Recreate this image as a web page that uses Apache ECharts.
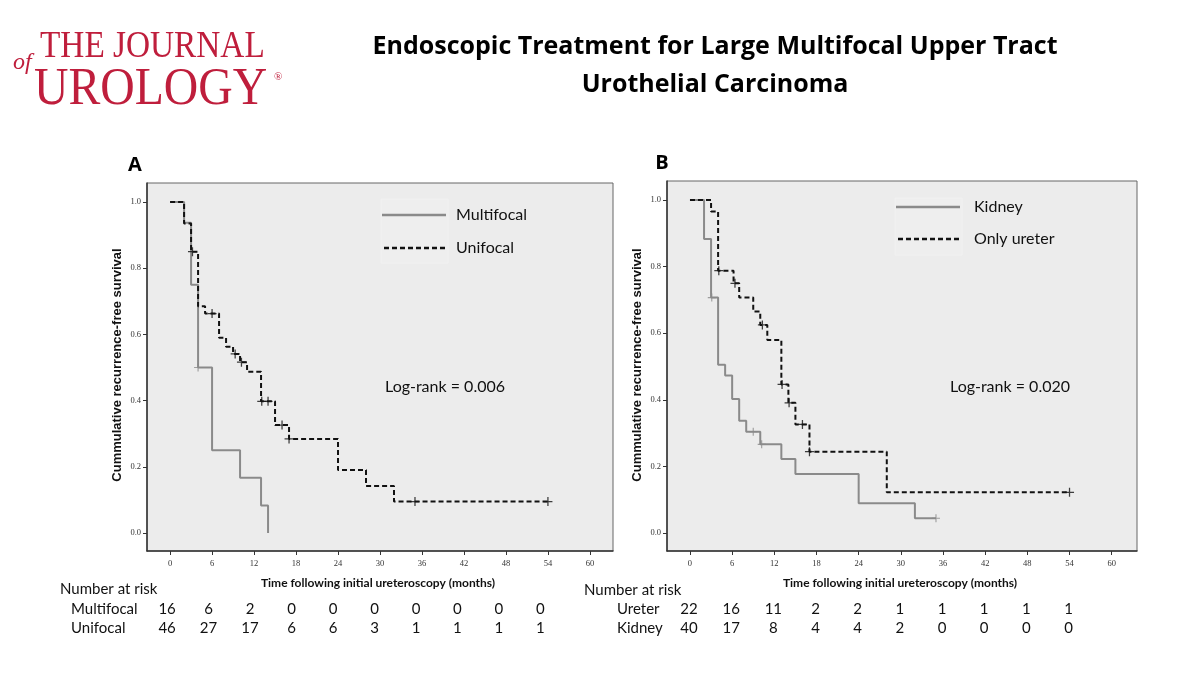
<!DOCTYPE html>
<html>
<head>
<meta charset="utf-8">
<script src="https://cdn.jsdelivr.net/npm/echarts@6/dist/echarts.min.js"></script>
<style>
html,body{margin:0;padding:0;background:#fff;}
#chart{width:1200px;height:685px;}
</style>
</head>
<body>
<div id="chart"></div>
<script>
// ---------- data ----------
const xTicks = [0, 6, 12, 18, 24, 30, 36, 42, 48, 54, 60];
const yTicks = [0, 0.2, 0.4, 0.6, 0.8, 1.0];

// Panel A
const multifocalTime = [0, 2, 3, 4, 6, 10, 13, 14];
const multifocalSurv = [1, 0.9375, 0.75, 0.5, 0.25, 0.1667, 0.0833, 0];
const multifocalCensorTime = [4];
const multifocalCensorSurv = [0.5];

const unifocalTime = [0, 2, 3, 4, 5, 7, 8, 9, 10, 11, 13, 15, 17, 24, 28, 32, 54];
const unifocalSurv = [1, 0.935, 0.85, 0.685, 0.663, 0.59, 0.563, 0.541, 0.516, 0.487, 0.398, 0.326, 0.284, 0.19, 0.142, 0.095, 0.095];
const unifocalCensorTime = [3.2, 6, 9.3, 10.2, 13.1, 14, 16, 17, 35, 54];
const unifocalCensorSurv = [0.85, 0.663, 0.541, 0.516, 0.398, 0.398, 0.326, 0.284, 0.095, 0.095];

// Panel B
const kidneyTime = [0, 2, 3, 4, 5, 6, 7, 8, 10, 13, 15, 24, 32, 35];
const kidneySurv = [1, 0.883, 0.707, 0.505, 0.473, 0.402, 0.337, 0.304, 0.266, 0.222, 0.177, 0.089, 0.044, 0.044];
const kidneyCensorTime = [3.1, 9, 10.2, 35];
const kidneyCensorSurv = [0.707, 0.304, 0.266, 0.044];

const ureterTime = [0, 3, 4, 6.2, 7, 9, 10, 11, 13, 14, 15, 17, 28, 54];
const ureterSurv = [1, 0.966, 0.788, 0.75, 0.707, 0.665, 0.625, 0.58, 0.446, 0.391, 0.326, 0.244, 0.122, 0.122];
const ureterCensorTime = [4.1, 6.4, 10.3, 13.1, 14.1, 16, 17, 54];
const ureterCensorSurv = [0.788, 0.75, 0.625, 0.446, 0.391, 0.326, 0.244, 0.122];

// Numbers at risk
const riskTimes = [0, 6, 12, 18, 24, 30, 36, 42, 48, 54];
const riskMultifocal = [16, 6, 2, 0, 0, 0, 0, 0, 0, 0];
const riskUnifocal = [46, 27, 17, 6, 6, 3, 1, 1, 1, 1];
const riskUreter = [22, 16, 11, 2, 2, 1, 1, 1, 1, 1];
const riskKidney = [40, 17, 8, 4, 4, 2, 0, 0, 0, 0];

// ---------- helpers ----------
const zip = (a, b) => a.map((v, i) => [v, b[i]]);
const PLUS = 'path://M0,4.3H10V5.7H0Z M4.3,0H5.7V10H4.3Z';
const GREY = '#8a8a8a';
const DARK = '#111';
const RED = '#bf1e3c';

function xAxisCfg(idx, min, max) {
  return {
    gridIndex: idx, type: 'value', min: min, max: max,
    axisLine: {show: true, onZero: false, lineStyle: {color: '#333', width: 1.5}},
    axisTick: {show: true, length: 4, customValues: xTicks, lineStyle: {color: '#333'}},
    axisLabel: {customValues: xTicks, margin: 8, fontFamily: 'Liberation Serif', fontSize: 8.5, color: '#333'},
    splitLine: {show: false}
  };
}
function yAxisCfg(idx) {
  return {
    gridIndex: idx, type: 'value', min: -0.0544, max: 1.0574,
    axisLine: {show: true, onZero: false, lineStyle: {color: '#333', width: 1.5}},
    axisTick: {show: true, length: 4, customValues: yTicks, lineStyle: {color: '#333'}},
    axisLabel: {customValues: yTicks, margin: 6, fontFamily: 'Liberation Serif', fontSize: 8.5, color: '#333',
      formatter: v => v.toFixed(1)},
    splitLine: {show: false}
  };
}
function stepSeries(name, idx, t, s, grey) {
  return {
    name: name, type: 'line', step: 'end', xAxisIndex: idx, yAxisIndex: idx,
    data: zip(t, s), showSymbol: false, symbol: 'none', silent: true,
    lineStyle: grey ? {color: GREY, width: 2} : {color: DARK, width: 2, type: [5, 3]},
    z: grey ? 2 : 3
  };
}
function censorSeries(name, idx, t, s, grey) {
  return {
    name: name, type: 'scatter', xAxisIndex: idx, yAxisIndex: idx,
    data: zip(t, s), symbol: PLUS, symbolSize: grey ? 8 : 9, silent: true,
    itemStyle: {color: grey ? GREY : DARK}, z: 4
  };
}

const g = [];
function txt(text, x, y, font, fill, align, vAlign, extra) {
  const e = {type: 'text', x: x, y: y, silent: true,
    style: {text: text, x: 0, y: 0, font: font, fill: fill || '#000', textAlign: align || 'left', textVerticalAlign: vAlign || 'middle'}};
  if (extra) Object.assign(e, extra);
  g.push(e);
}
function seg(x1, y1, x2, y2, color, width, dash) {
  g.push({type: 'line', silent: true, shape: {x1: x1, y1: y1, x2: x2, y2: y2},
    style: {stroke: color, lineWidth: width, lineDash: dash || null}});
}

// Logo
txt('THE JOURNAL', 40, 47, '37px "Liberation Serif"', RED, 'left', 'middle', {scaleX: 0.9, scaleY: 1});
txt('of', 13, 63, 'italic 24px "Liberation Serif"', RED, 'left', 'middle');
txt('UROLOGY', 34, 90, '53px "Liberation Serif"', RED, 'left', 'middle', {scaleX: 0.9, scaleY: 1});
txt('®', 274, 77, '11px "Liberation Serif"', RED, 'left', 'middle');

// Title
txt('Endoscopic Treatment for Large Multifocal Upper Tract', 715, 47, 'bold 25px "Open Sans"', '#000', 'center');
txt('Urothelial Carcinoma', 715, 85, 'bold 25px "Open Sans"', '#000', 'center');

// Panel letters
txt('A', 135, 165, 'bold 20px "Open Sans"', '#000', 'center');
txt('B', 662, 163, 'bold 20px "Open Sans"', '#000', 'center');

// Axis names
txt('Cummulative recurrence-free survival', 117, 365, 'bold 13px "Liberation Sans"', '#111', 'center', 'middle', {rotation: Math.PI / 2});
txt('Cummulative recurrence-free survival', 637, 365, 'bold 13px "Liberation Sans"', '#111', 'center', 'middle', {rotation: Math.PI / 2});
txt('Time following initial ureteroscopy (months)', 378, 583, 'bold 12px Lato', '#111', 'center');
txt('Time following initial ureteroscopy (months)', 900, 583, 'bold 12px Lato', '#111', 'center');

// Legends
g.push({type: 'rect', silent: true, shape: {x: 381, y: 199, width: 67, height: 64}, style: {fill: 'rgba(255,255,255,0.12)', stroke: '#f1f1f1', lineWidth: 1}});
seg(382, 215, 446, 215, GREY, 2.5);
seg(384, 248, 446, 248, DARK, 2.5, [5, 3]);
txt('Multifocal', 456, 215, '16px Lato', '#111');
txt('Unifocal', 456, 248, '16px Lato', '#111');

g.push({type: 'rect', silent: true, shape: {x: 895, y: 198, width: 67, height: 57}, style: {fill: 'rgba(255,255,255,0.12)', stroke: '#f1f1f1', lineWidth: 1}});
seg(896, 207, 960, 207, GREY, 2.5);
seg(898, 239, 960, 239, DARK, 2.5, [5, 3]);
txt('Kidney', 974, 207, '16px Lato', '#111');
txt('Only ureter', 974, 239, '16px Lato', '#111');

// Log-rank
txt('Log-rank = 0.006', 385, 387, '16px Lato', '#111');
txt('Log-rank = 0.020', 950, 387, '16px Lato', '#111');

// Number at risk headings
txt('Number at risk', 60, 589, '15px Lato', '#111');
txt('Multifocal', 71, 609, '15px Lato', '#111');
txt('Unifocal', 71, 628, '15px Lato', '#111');
txt('Number at risk', 584, 590, '15px Lato', '#111');
txt('Ureter', 617, 609, '15px Lato', '#111');
txt('Kidney', 617, 628, '15px Lato', '#111');

const option = {
  animation: false,
  backgroundColor: '#fff',
  grid: [
    {left: 147, top: 183, width: 466, height: 368, show: true, backgroundColor: '#ececec', borderColor: '#666', borderWidth: 1},
    {left: 667, top: 181, width: 470, height: 370, show: true, backgroundColor: '#ececec', borderColor: '#666', borderWidth: 1}
  ],
  xAxis: [xAxisCfg(0, -3.3, 63.3), xAxisCfg(1, -3.27, 63.6)],
  yAxis: [yAxisCfg(0), yAxisCfg(1)],
  series: [
    stepSeries('Unifocal', 0, unifocalTime, unifocalSurv, false),
    stepSeries('Multifocal', 0, multifocalTime, multifocalSurv, true),
    censorSeries('Unifocal censored', 0, unifocalCensorTime, unifocalCensorSurv, false),
    censorSeries('Multifocal censored', 0, multifocalCensorTime, multifocalCensorSurv, true),
    stepSeries('Kidney', 1, kidneyTime, kidneySurv, true),
    stepSeries('Only ureter', 1, ureterTime, ureterSurv, false),
    censorSeries('Kidney censored', 1, kidneyCensorTime, kidneyCensorSurv, true),
    censorSeries('Only ureter censored', 1, ureterCensorTime, ureterCensorSurv, false)
  ],
  graphic: {elements: g}
};

const chart = echarts.init(document.getElementById('chart'), null, {renderer: 'canvas'});
chart.setOption(option);

// Numbers at risk aligned with the x axes
riskTimes.forEach((t, i) => {
  const pa = chart.convertToPixel({xAxisIndex: 0, yAxisIndex: 0}, [t, 0]);
  const pb = chart.convertToPixel({xAxisIndex: 1, yAxisIndex: 1}, [t, 0]);
  const xa = pa[0] - 3 - i * 0.5;
  const xb = pb[0] - 1;
  txt(String(riskMultifocal[i]), xa, 609, '15px Lato', '#111', 'center');
  txt(String(riskUnifocal[i]), xa, 628, '15px Lato', '#111', 'center');
  txt(String(riskUreter[i]), xb, 609, '15px Lato', '#111', 'center');
  txt(String(riskKidney[i]), xb, 628, '15px Lato', '#111', 'center');
});
chart.setOption({graphic: {elements: g}});
</script>
</body>
</html>
